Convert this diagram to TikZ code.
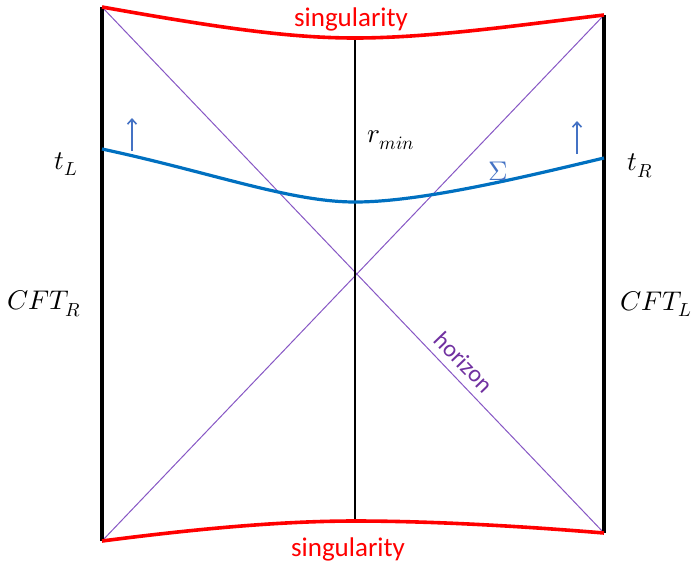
\documentclass[tikz,border=0pt]{standalone}
\usepackage{fontspec}
\usepackage{unicode-math}
\setmainfont{Carlito}
\usetikzlibrary{arrows.meta}
\definecolor{sing}{HTML}{FF0000}
\definecolor{hor}{HTML}{7030A0}
\definecolor{diag}{HTML}{8757C4}
\definecolor{sig}{HTML}{0070C0}
\definecolor{arr}{HTML}{4472C4}
\tikzset{
  wall/.style={line width=4pt, black},
  singline/.style={line width=3.6pt, sing},
  diagline/.style={line width=1pt, diag},
  sigline/.style={line width=3.2pt, sig},
  timearrow/.style={line width=1.6pt, arr, -{Straight Barb[length=5pt,width=9pt]}},
  mathlbl/.style={font=\fontsize{27}{30}\selectfont, inner sep=0pt},
  singlbl/.style={text=sing, font=\fontsize{27}{30}\selectfont, inner sep=0pt},
}
\begin{document}
\begin{tikzpicture}[x=1pt,y=-1pt]
\useasboundingbox (0,0) rectangle (692,563);
% corners
\coordinate (LT) at (102,7);
\coordinate (LB) at (102,541);
\coordinate (RT) at (604,15);
\coordinate (RB) at (604,533);
\coordinate (CT) at (355,38);
\coordinate (CB) at (355,521);
\coordinate (SL) at (102,149);
\coordinate (SM) at (355,202);
\coordinate (SR) at (604,158);
\coordinate (aL0) at (132,151);
\coordinate (aL1) at (132,118);
\coordinate (aR0) at (577,154);
\coordinate (aR1) at (577,121);
% diagonals
\draw[diagline] (LT) -- (RB);
\draw[diagline] (LB) -- (RT);
% centre line
\draw[line width=1.5pt] (CT) -- (CB);
% walls
\draw[wall] (LT) -- (LB);
\draw[wall] (RT) -- (RB);
% singularities
\draw[singline] (LT) .. controls (220,28) and (290,38) .. (CT) .. controls (430,38) and (520,25) .. (RT);
\draw[singline] (LB) .. controls (210,527) and (290,521) .. (CB) .. controls (430,521) and (520,526) .. (RB);
% Sigma slice
\draw[sigline] (SL) .. controls (210,172) and (290,202) .. (SM) .. controls (420,202) and (520,178) .. (SR);
% arrows
\draw[timearrow] (aL0) -- (aL1);
\draw[timearrow] (aR0) -- (aR1);
% labels
\node[singlbl] (stop) at (351,19) {singularity};
\node[singlbl] (sbot) at (348,549) {singularity};
\node[mathlbl] (tL) at (66,164) {$t_L$};
\node[mathlbl] (tR) at (640,166) {$t_R$};
\node[mathlbl] (rmin) at (391,140) {$r_{min}$};
\node[mathlbl, text=arr] (Sig) at (498,171) {$\Sigma$};
\node[mathlbl] (cftR) at (44,304) {$CFT_R$};
\node[mathlbl] (cftL) at (656,304) {$CFT_L$};
\node[text=hor, rotate=-46, inner sep=0pt, font=\fontsize{24}{28}\selectfont] (horz) at (464,362) {horizon};
\end{tikzpicture}
\end{document}
